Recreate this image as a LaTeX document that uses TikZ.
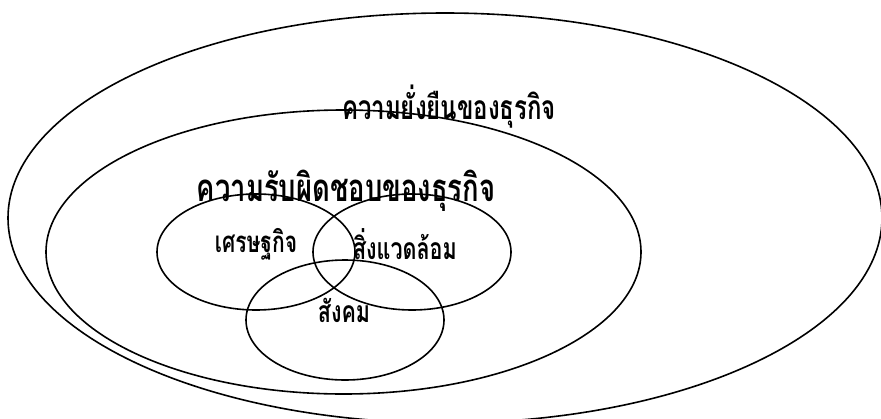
\documentclass[tikz,border=0pt]{standalone}
\usepackage{fontspec}
\newfontfamily\thaifont[Script=Thai]{Loma}
\newcommand{\tallbox}[1]{\scalebox{1}[1.4]{#1}}
\begin{document}
\begin{tikzpicture}[x=1pt,y=-1pt,
  ring/.style={line width=1.6pt},
  lbl/.style={inner sep=0pt}]
\useasboundingbox (0,0) rectangle (881,418);
\draw[ring] (445,218) ellipse [x radius=437, y radius=205];
\draw[ring] (343.5,252) ellipse [x radius=297.5, y radius=142];
\draw[ring] (256,252) ellipse [x radius=99, y radius=58];
\draw[ring] (412,252) ellipse [x radius=99, y radius=58];
\draw[ring] (345,320) ellipse [x radius=99, y radius=60];
\node[lbl, font=\thaifont\bfseries\fontsize{24}{28}\selectfont] (t1) at (449,107) {\tallbox{ความยั่งยืนของธุรกิจ}};
\node[lbl, font=\thaifont\bfseries\fontsize{27.4}{32}\selectfont] (t2) at (346,191) {\tallbox{ความรับผิดชอบของธุรกิจ}};
\node[lbl, font=\thaifont\bfseries\fontsize{21}{25}\selectfont] (t3) at (256,244) {\tallbox{เศรษฐกิจ}};
\node[lbl, font=\thaifont\bfseries\fontsize{21.5}{25}\selectfont] (t4) at (405,244) {\tallbox{สิ่งแวดล้อม}};
\node[lbl, font=\thaifont\bfseries\fontsize{21.5}{25}\selectfont] (t5) at (344,310) {\tallbox{สังคม}};
\end{tikzpicture}
\end{document}
